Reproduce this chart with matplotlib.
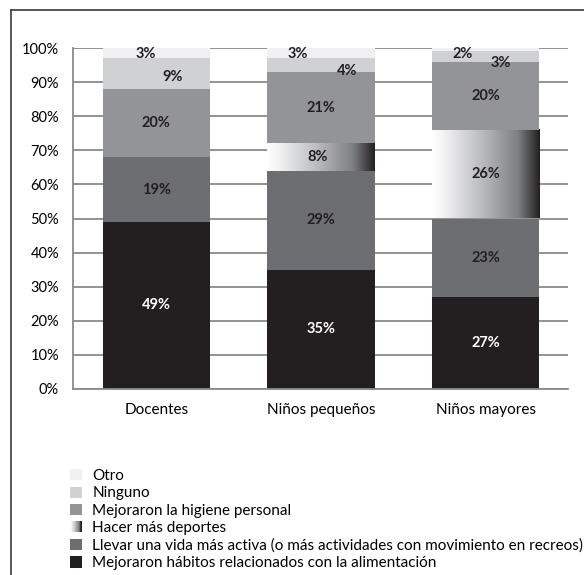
import numpy as np
import matplotlib
matplotlib.use('Agg')
from matplotlib import pyplot as plt
from matplotlib.colors import LinearSegmentedColormap
from matplotlib.patches import Rectangle
from matplotlib.legend_handler import HandlerBase
from matplotlib.lines import Line2D

plt.rcParams['font.family'] = ['Lato', 'DejaVu Sans']

groups = ['Docentes', 'Niños pequeños', 'Niños mayores']
series = ['Mejoraron hábitos relacionados con la alimentación',
          'Llevar una vida más activa (o más actividades con movimiento en recreos)',
          'Hacer más deportes',
          'Mejoraron la higiene personal',
          'Ninguno',
          'Otro']
values = [
    [49, 35, 27],
    [19, 29, 23],
    [0, 8, 26],
    [20, 21, 20],
    [9, 4, 3],
    [3, 3, 2],
]
colors = ['#231f20', '#6d6e71', None, '#939497', '#d0d1d3', '#f0f0f2']
text_colors = ['white', '#231f20', '#231f20', '#231f20', '#231f20', '#231f20']
# label nudges (fractions of bar width / segment height) for the small top segments
label_dx = [
    [0, 0, 0],
    [0, 0, 0],
    [0, -0.03, 0],
    [0, 0, 0],
    [0.15, 0.24, 0.14],
    [-0.1, -0.22, -0.21],
]
label_dy = [
    [0, 0, 0],
    [0, 0, 0],
    [0, 0, 0],
    [0, 0, 0],
    [-0.1, -0.42, -0.6],
    [-0.1, -0.1, -0.9],
]

grad = LinearSegmentedColormap.from_list(
    'dep', [(0, '#ffffff'), (0.1, '#f4f4f5'), (0.45, '#bdbec1'), (0.8, '#7d7e81'), (1.0, '#231f20')])

fig = plt.figure(figsize=(5.84, 5.75), dpi=100)
ax = fig.add_axes([73 / 584, 1 - 389 / 575, 495 / 584, 341 / 575])

x = np.arange(len(groups))
width = 0.65
bottom = np.zeros(len(groups))
for i, name in enumerate(series):
    vals = np.array(values[i], dtype=float)
    if colors[i] is None:
        for j in range(len(groups)):
            if vals[j] <= 0:
                continue
            img = np.linspace(0, 1, 256).reshape(1, -1)
            ax.imshow(img, cmap=grad, aspect='auto', zorder=2,
                      extent=(x[j] - width / 2, x[j] + width / 2, bottom[j], bottom[j] + vals[j]))
    else:
        ax.bar(x, vals, width, bottom=bottom, color=colors[i], zorder=2, linewidth=0)
    for j in range(len(groups)):
        if vals[j] <= 0:
            continue
        ax.text(x[j] + label_dx[i][j] * width, bottom[j] + vals[j] / 2 + label_dy[i][j] * vals[j],
                f'{int(vals[j])}%', ha='center', va='center', fontsize=10.5,
                fontweight='bold', color=text_colors[i], zorder=3)
    bottom += vals

ax.set_xlim(-0.506, 2.5)
ax.set_ylim(0, 100)
ax.set_yticks(np.arange(0, 101, 10))
ax.set_yticklabels([f'{v}%' for v in range(0, 101, 10)], fontsize=10.5)
ax.set_xticks(x)
ax.set_xticklabels(groups, fontsize=11)
ax.tick_params(length=0, pad=10)
ax.tick_params(axis='x', pad=10)
ax.yaxis.grid(True, color='#8a8a8a', linewidth=1.3, zorder=1)
ax.set_axisbelow(True)
for s in ['top', 'right']:
    ax.spines[s].set_visible(False)
for s in ['left', 'bottom']:
    ax.spines[s].set_color('#8a8a8a')
    ax.spines[s].set_linewidth(1.3)


class GradientHandler(HandlerBase):
    def create_artists(self, legend, orig_handle, xdescent, ydescent, width, height, fontsize, trans):
        n = 20
        arts = []
        for k in range(n):
            arts.append(Rectangle((-xdescent + width * k / n, -ydescent), width / n + 0.2, height,
                                  facecolor=grad(k / (n - 1)), edgecolor='none', transform=trans))
        return arts


handles = []
handler_map = {}
for i, name in enumerate(series):
    if colors[i] is None:
        h = Line2D([], [])
        handler_map[h] = GradientHandler()
    else:
        h = Rectangle((0, 0), 1, 1, facecolor=colors[i], edgecolor='none')
    handles.append(h)

fig.legend(handles[::-1], series[::-1], loc='upper left',
           bbox_to_anchor=(64 / 584, 1 - 463 / 575), frameon=False, fontsize=11,
           handlelength=0.75, handleheight=0.75, handletextpad=0.7, labelspacing=0.22,
           handler_map=handler_map, borderaxespad=0)

# outer frame (only left and top edges are visible in the crop)
fig.add_artist(Line2D([11 / 584, 11 / 584], [-0.1, 1 - 10 / 575], transform=fig.transFigure,
                      color='#3a3a3a', linewidth=1.2))
fig.add_artist(Line2D([11 / 584, 1.1], [1 - 10 / 575, 1 - 10 / 575], transform=fig.transFigure,
                      color='#3a3a3a', linewidth=1.2))

fig.savefig('out.png', dpi=100)
